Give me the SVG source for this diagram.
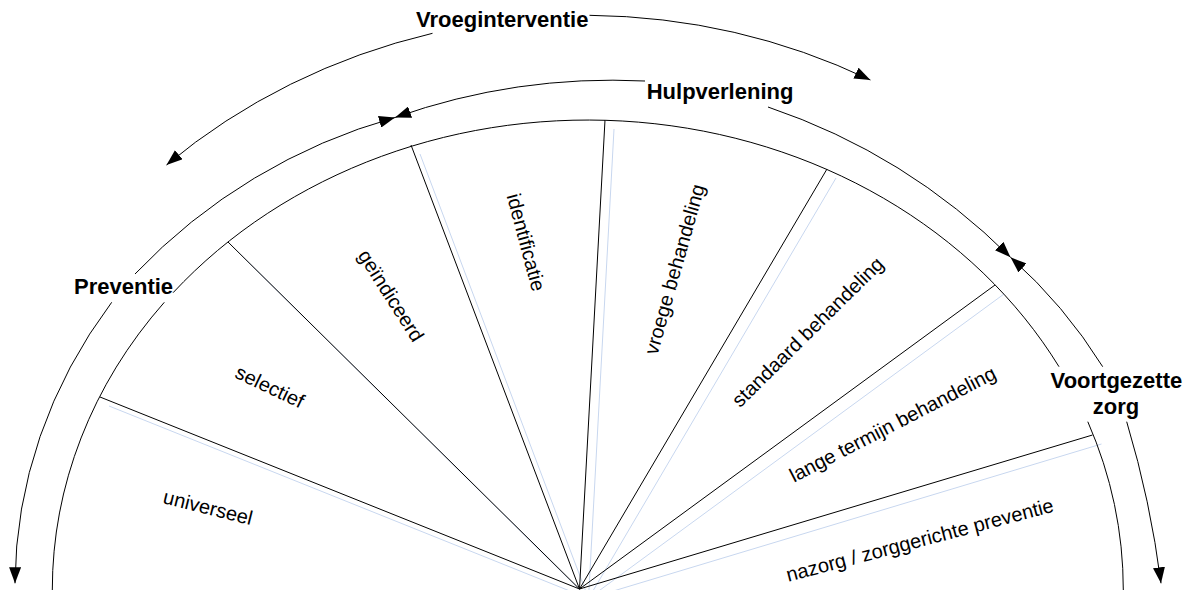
<svg xmlns="http://www.w3.org/2000/svg" width="1191" height="590" viewBox="0 0 1191 590">
<style>
.ln{fill:none;stroke:#000;stroke-width:1}
.sh{fill:none;stroke:#c8d7ef;stroke-width:1}
.ar{fill:none;stroke:#000;stroke-width:1;marker-end:url(#ah)}
.lbl{font-family:"Liberation Sans",Arial,sans-serif;font-size:20px;fill:#000;text-anchor:middle}
.ttl{font-family:"Liberation Sans",Arial,sans-serif;font-size:22px;font-weight:bold;fill:#000}
</style>
<defs>
<marker id="ah" viewBox="0 0 16 12" markerWidth="16" markerHeight="12" refX="16" refY="6" orient="auto" markerUnits="userSpaceOnUse">
<path d="M0,0 L16,6 L0,12 z" fill="#000"/>
</marker>
</defs>
<rect width="1191" height="590" fill="#fff"/>

<g id="shadows">
<line class="sh" x1="109" y1="406" x2="588.5" y2="598.5"/>
<line class="sh" x1="237" y1="251" x2="588.5" y2="598.5"/>
<line class="sh" x1="420" y1="154" x2="588.5" y2="598.5"/>
<line class="sh" x1="614" y1="129" x2="588.5" y2="598.5"/>
<line class="sh" x1="836" y1="178" x2="588.5" y2="598.5"/>
<line class="sh" x1="1004" y1="294" x2="588.5" y2="598.5"/>
<line class="sh" x1="1101.5" y1="444" x2="588.5" y2="598.5"/>
</g>

<g id="fan">
<path class="ln" d="M52.3 590 A535.5 470 0 0 1 164.3 302.3 M173.1 292.7 A535.5 470 0 0 1 1059 366.7 M1087.8 421.7 A535.5 470 0 0 1 1123.3 590"/>
<line class="ln" x1="100" y1="397" x2="579.5" y2="589"/>
<line class="ln" x1="228" y1="242" x2="579.5" y2="589"/>
<line class="ln" x1="411" y1="145" x2="579.5" y2="589"/>
<line class="ln" x1="605" y1="120" x2="579.5" y2="589"/>
<line class="ln" x1="827" y1="169" x2="579.5" y2="589"/>
<line class="ln" x1="995" y1="285" x2="579.5" y2="589"/>
<line class="ln" x1="1092.5" y1="435" x2="579.5" y2="589"/>
</g>

<g id="sector-universeel"><text class="lbl" transform="translate(207.8,508.3) rotate(14)" y="6">universeel</text></g>
<g id="sector-selectief"><text class="lbl" transform="translate(269.5,387.5) rotate(25.5)" y="6">selectief</text></g>
<g id="sector-geindiceerd"><text class="lbl" transform="translate(390.3,296.2) rotate(57.5)" y="6">geïndiceerd</text></g>
<g id="sector-identificatie"><text class="lbl" transform="translate(525.3,242.5) rotate(75)" y="6">identificatie</text></g>
<g id="sector-vroege-behandeling"><text class="lbl" transform="translate(675.3,269.5) rotate(-74.2)" y="6">vroege behandeling</text></g>
<g id="sector-standaard-behandeling"><text class="lbl" transform="translate(808.3,332.5) rotate(-44.6)" y="6">standaard behandeling</text></g>
<g id="sector-lange-termijn"><text class="lbl" transform="translate(893,425) rotate(-27.3)" y="6">lange termijn behandeling</text></g>
<g id="sector-nazorg"><text class="lbl" transform="translate(920,540.8) rotate(-14.8)" y="6">nazorg / zorggerichte preventie</text></g>

<g id="connectors">
<path class="ar" d="M432.5 33.3 A626.2 574.7 0 0 0 166.5 165"/>
<path class="ar" d="M589.5 15.3 A626.2 574.7 0 0 1 870.4 80"/>
<path class="ar" d="M645 81 A653.5 653.5 0 0 0 395 117.5"/>
<path class="ar" d="M768 107 A629.4 629.4 0 0 1 1010.5 257.3"/>
<path class="ar" d="M135 274 A571 571 0 0 1 395 117.5"/>
<path class="ar" d="M111.7 302.3 A573 510 0 0 0 15 583.3"/>
<path class="ar" d="M1102.7 366.7 A500 500 0 0 0 1010.5 257.3"/>
<path class="ar" d="M1126.7 421.7 A1000 1000 0 0 1 1161 583.3"/>
</g>

<g id="label-vroeginterventie"><text class="ttl" x="416" y="27.3">Vroeginterventie</text></g>
<g id="label-hulpverlening"><text class="ttl" x="646.7" y="99">Hulpverlening</text></g>
<g id="label-preventie"><text class="ttl" x="74" y="294.3">Preventie</text></g>
<g id="label-voortgezette-zorg"><text class="ttl" text-anchor="middle" x="1116.4" y="388.3">Voortgezette</text><text class="ttl" text-anchor="middle" x="1116" y="414.3">zorg</text></g>
</svg>
